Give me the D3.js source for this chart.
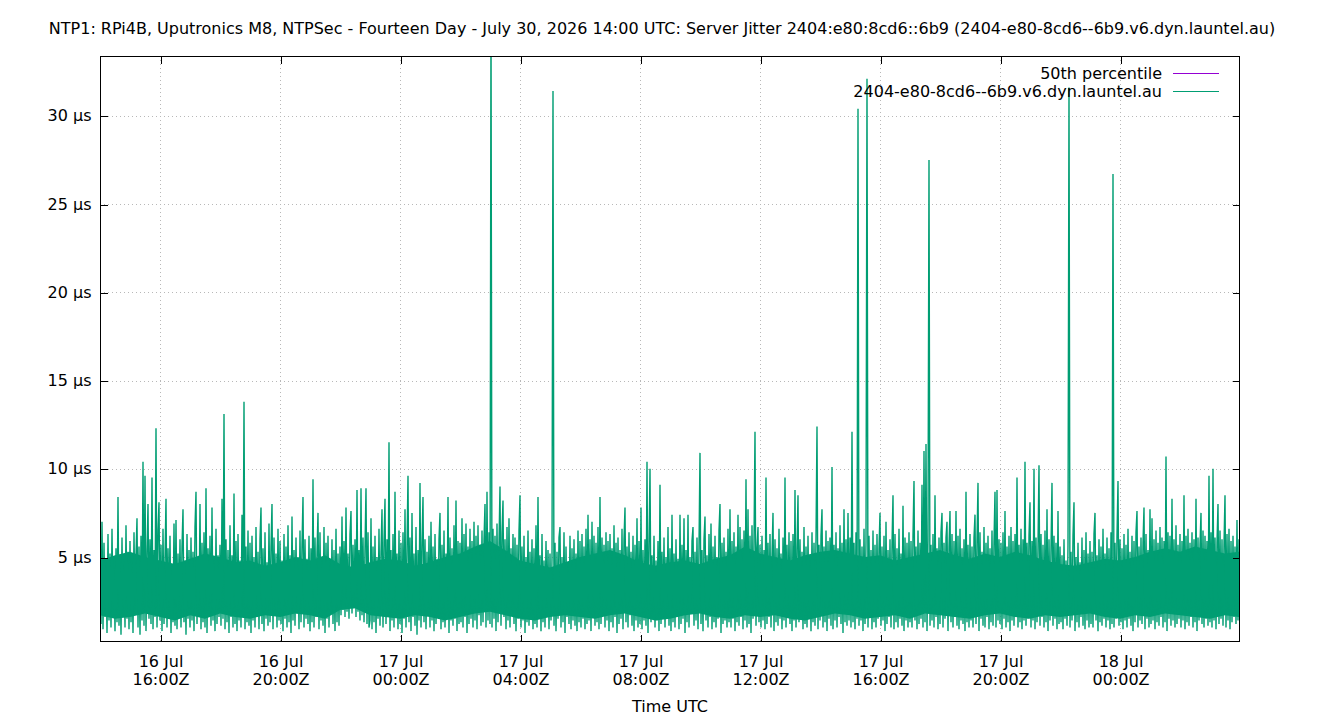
<!DOCTYPE html>
<html>
<head>
<meta charset="utf-8">
<script src="https://cdn.jsdelivr.net/npm/d3@7"></script>
<style>
  html, body { margin: 0; padding: 0; background: #fff; }
  svg { display: block; font-family: "DejaVu Sans", sans-serif; }
</style>
</head>
<body>
<svg id="chart" width="1340" height="720"></svg>
<script>
// ---------------- data ----------------
const chartTitle = "NTP1: RPi4B, Uputronics M8, NTPSec - Fourteen Day - July 30, 2026 14:00 UTC: Server Jitter 2404:e80:8cd6::6b9 (2404-e80-8cd6--6b9.v6.dyn.launtel.au)";
const xAxisLabel = "Time UTC";
const seriesNames = ["50th percentile", "2404-e80-8cd6--6b9.v6.dyn.launtel.au"];
const seriesColors = ["#9400d3", "#009e73"];
const medianJitter = 3.0;                       // µs, 50th percentile
const startTime = "2026-07-16T14:00:00Z";       // first sample
const endTime = "2026-07-18T03:58:00Z";         // right edge of the plot
const sampleMinutes = 2;                        // spacing of the jitter samples below
const bandMinutes = 30;                         // spacing of the dense-core band samples
const yDomain = [0.24, 33.39];
const yTicks = [5, 10, 15, 20, 25, 30];
const xTickTimes = ["2026-07-16T16:00:00Z", "2026-07-16T20:00:00Z", "2026-07-17T00:00:00Z",
  "2026-07-17T04:00:00Z", "2026-07-17T08:00:00Z", "2026-07-17T12:00:00Z",
  "2026-07-17T16:00:00Z", "2026-07-17T20:00:00Z", "2026-07-18T00:00:00Z"];
const xTickLabels = [["16 Jul", "16:00Z"], ["16 Jul", "20:00Z"], ["17 Jul", "00:00Z"],
  ["17 Jul", "04:00Z"], ["17 Jul", "08:00Z"], ["17 Jul", "12:00Z"],
  ["17 Jul", "16:00Z"], ["17 Jul", "20:00Z"], ["18 Jul", "00:00Z"]];

// dense core of the jitter trace (µs), where the samples overlap into solid colour, every 30 min
const coreHigh = [
  4.8, 5.1, 5.3, 5.0, 4.8, 4.6, 4.9, 5.2, 5.0, 4.7, 4.8, 4.5, 4.7, 5.0, 4.8, 5.1,
  4.6, 4.4, 4.7, 4.9, 4.8, 4.5, 4.7, 5.0, 5.2, 5.6, 5.9, 5.4, 4.8, 4.6, 4.4, 4.7,
  5.0, 5.2, 5.4, 5.1, 4.7, 4.5, 4.7, 4.8, 4.6, 4.9, 5.1, 5.6, 5.2, 5.0, 4.8, 5.1,
  5.3, 5.4, 5.2, 5.0, 5.1, 4.8, 5.0, 5.2, 5.4, 5.1, 4.9, 5.2, 5.0, 5.3, 5.1, 4.8,
  4.6, 4.5, 4.7, 4.9, 4.8, 5.0, 5.3, 5.5, 5.3, 5.6, 5.4, 5.2, 5.3
];
const coreLow = [
  1.7, 1.5, 1.6, 1.8, 1.6, 1.4, 1.7, 1.5, 1.8, 1.6, 1.5, 1.7, 1.6, 1.8, 1.7, 1.5,
  2.0, 2.1, 1.7, 1.6, 1.5, 1.7, 1.6, 1.4, 1.6, 1.8, 1.9, 1.7, 1.5, 1.4, 1.6, 1.7,
  1.6, 1.5, 1.7, 1.8, 1.6, 1.4, 1.5, 1.7, 1.8, 1.6, 1.5, 1.7, 1.6, 1.7, 1.5, 1.4,
  1.6, 1.8, 1.7, 1.5, 1.6, 1.7, 1.5, 1.8, 1.7, 1.6, 1.5, 1.7, 1.8, 1.6, 1.5, 1.7,
  1.6, 1.7, 1.8, 1.6, 1.5, 1.7, 1.6, 1.8, 1.7, 1.6, 1.5, 1.7, 1.6
];

// server jitter (µs), one row per hour, 2-minute samples
const jitter = [
  4.6, 1.2, 7.0, 0.9, 5.8, 1.6, 4.9, 0.7, 6.3, 1.4, 5.2, 1.0, 6.6, 2.1, 4.4, 0.8, 5.5, 1.3, 8.4, 1.1, 5.0, 0.6, 6.1, 1.7, 4.7, 1.0, 6.8, 1.5, 5.3, 0.9,
  5.9, 1.3, 4.8, 0.7, 6.4, 1.8, 5.1, 7.2, 1.0, 5.6, 0.6, 6.2, 1.4, 10.4, 1.1, 9.6, 0.8, 5.3, 8.0, 1.5, 6.0, 1.2, 9.5, 0.9, 5.4, 1.6, 12.3, 1.0, 6.5, 8.1,
  1.4, 5.7, 0.8, 6.6, 1.2, 4.9, 8.3, 1.0, 5.5, 1.7, 6.2, 0.7, 4.6, 1.3, 6.9, 1.1, 7.1, 0.9, 5.2, 1.9, 6.0, 1.0, 5.6, 7.7, 1.3, 4.8, 0.6, 6.3, 1.5, 5.4,
  1.0, 6.1, 1.4, 5.3, 0.8, 6.7, 8.7, 1.2, 5.0, 1.6, 8.0, 0.9, 5.8, 1.3, 6.4, 1.0, 8.9, 0.7, 5.5, 1.8, 6.2, 1.1, 7.8, 1.4, 4.9, 0.8, 6.6, 1.2, 5.1, 1.6,
  5.7, 1.1, 8.3, 1.5, 13.1, 0.9, 6.0, 1.3, 5.4, 0.7, 6.8, 1.6, 5.1, 1.0, 8.6, 1.2, 5.9, 0.8, 6.3, 1.4, 4.8, 1.0, 7.4, 1.7, 13.8, 0.9, 5.6, 1.3, 6.5, 1.1,
  5.8, 0.7, 6.2, 1.4, 5.0, 1.0, 6.7, 1.6, 5.3, 0.9, 6.0, 7.8, 1.2, 5.5, 0.8, 6.4, 1.5, 4.7, 1.1, 6.9, 1.3, 5.6, 8.0, 0.9, 6.1, 1.7, 5.2, 1.0, 6.6, 1.4,
  5.9, 1.2, 4.8, 0.8, 6.3, 1.5, 5.6, 1.0, 6.8, 1.3, 5.1, 0.7, 7.3, 1.4, 5.4, 1.1, 6.1, 1.8, 5.0, 0.9, 6.5, 1.3, 5.7, 8.4, 1.0, 6.0, 1.5, 4.9, 1.2, 6.2,
  0.8, 5.5, 1.3, 9.4, 1.0, 6.1, 1.6, 5.3, 7.5, 0.9, 6.4, 1.4, 5.0, 1.1, 6.7, 0.7, 5.8, 1.5, 6.2, 1.0, 4.9, 1.8, 6.0, 1.2, 5.4, 0.8, 6.6, 1.3, 5.2, 1.1,
  5.6, 1.7, 7.3, 2.0, 5.9, 1.6, 7.8, 1.9, 5.2, 1.5, 6.3, 7.6, 1.8, 5.7, 2.1, 6.0, 1.6, 8.8, 1.9, 5.4, 1.4, 8.9, 1.7, 6.1, 1.3, 5.5, 8.9, 1.2, 6.4, 1.0,
  1.4, 7.2, 0.9, 5.6, 1.3, 6.2, 0.7, 5.0, 1.5, 6.6, 1.1, 5.3, 7.7, 1.0, 5.9, 8.3, 1.2, 6.0, 1.7, 11.5, 0.8, 5.4, 1.4, 6.3, 1.0, 8.7, 1.6, 5.2, 0.9, 6.5,
  1.2, 5.8, 0.7, 6.4, 1.5, 7.7, 1.0, 5.5, 9.6, 1.3, 6.1, 0.8, 7.5, 1.6, 5.2, 1.1, 6.7, 0.6, 5.4, 1.4, 9.2, 1.0, 5.8, 8.4, 1.3, 6.0, 0.9, 5.3, 1.7, 6.2,
  1.0, 7.0, 1.4, 5.6, 0.8, 6.3, 1.2, 4.9, 1.6, 6.0, 7.5, 0.9, 5.7, 1.3, 6.5, 1.0, 5.2, 1.8, 8.4, 0.7, 6.1, 1.4, 5.5, 1.1, 6.8, 1.5, 8.2, 0.8, 5.9, 1.2,
  5.8, 1.3, 7.2, 1.0, 6.3, 1.6, 6.9, 0.7, 5.6, 1.2, 6.6, 1.5, 5.9, 1.0, 7.0, 1.4, 6.2, 0.9, 6.8, 1.7, 5.7, 1.1, 6.5, 1.3, 6.0, 8.0, 1.0, 8.7, 1.4, 6.4,
  1.2, 36.0, 1.0, 6.6, 1.5, 6.2, 0.8, 6.9, 1.3, 5.8, 9.0, 1.1, 6.4, 8.2, 1.6, 6.0, 0.9, 6.7, 1.4, 7.2, 1.0, 5.5, 1.7, 6.3, 1.2, 6.1, 0.8, 5.7, 1.5, 6.5,
  8.5, 1.0, 5.6, 1.4, 6.2, 0.7, 5.0, 1.3, 6.5, 1.1, 5.3, 1.6, 6.0, 0.9, 5.5, 1.2, 6.8, 1.0, 8.4, 1.5, 5.1, 0.8, 6.3, 1.3, 4.8, 1.0, 5.9, 1.7, 5.4, 0.9,
  5.2, 1.4, 4.9, 31.4, 1.1, 5.8, 0.8, 5.3, 1.5, 6.1, 6.7, 1.0, 5.0, 1.3, 6.4, 0.7, 5.6, 1.6, 4.7, 1.2, 6.2, 0.9, 5.5, 1.4, 6.0, 1.1, 5.2, 0.8, 6.5, 1.3,
  5.9, 1.0, 6.3, 1.5, 5.6, 0.9, 6.6, 1.2, 7.4, 1.4, 6.0, 0.8, 7.0, 1.6, 6.2, 1.1, 5.8, 1.3, 6.7, 0.9, 8.4, 1.2, 6.1, 1.7, 5.7, 1.0, 6.4, 1.4, 5.9, 0.8,
  6.3, 1.3, 5.5, 1.0, 6.8, 1.6, 5.8, 0.7, 6.1, 1.2, 5.4, 1.5, 6.6, 0.9, 6.0, 7.8, 1.3, 5.6, 1.0, 6.4, 1.7, 5.3, 1.1, 6.2, 0.8, 5.7, 1.4, 7.2, 1.0, 5.9,
  1.2, 7.8, 0.9, 5.4, 1.4, 6.0, 1.1, 10.4, 0.7, 5.6, 10.0, 1.3, 5.1, 1.6, 6.2, 1.0, 4.8, 1.4, 5.9, 0.8, 9.1, 1.2, 5.3, 1.5, 6.1, 1.0, 5.0, 1.7, 6.7, 1.1,
  5.5, 0.8, 7.4, 1.3, 5.2, 1.0, 6.0, 1.6, 4.9, 0.9, 7.4, 1.2, 5.7, 1.5, 7.2, 0.7, 5.4, 1.3, 7.4, 1.0, 5.0, 1.8, 5.9, 6.7, 1.1, 5.3, 1.4, 6.1, 0.9, 5.6,
  10.9, 1.2, 5.4, 0.8, 6.0, 7.3, 1.4, 5.1, 1.0, 6.3, 1.6, 6.9, 0.9, 5.6, 1.3, 6.2, 1.0, 5.0, 1.5, 6.5, 8.0, 0.7, 5.8, 1.2, 6.1, 1.4, 5.3, 1.0, 6.6, 1.3,
  7.7, 1.0, 5.9, 1.5, 6.4, 0.8, 5.6, 1.3, 7.4, 1.1, 6.7, 1.6, 6.0, 0.9, 6.5, 1.4, 9.4, 1.0, 7.7, 1.2, 6.2, 0.7, 6.8, 1.5, 5.9, 12.1, 1.1, 5.5, 6.7, 1.3,
  5.7, 1.0, 6.2, 1.4, 5.4, 0.9, 9.5, 1.2, 5.8, 1.6, 6.3, 1.0, 5.1, 7.5, 0.8, 6.0, 1.3, 5.5, 1.1, 6.6, 1.5, 5.2, 0.9, 6.1, 1.4, 9.5, 1.0, 5.7, 1.7, 6.4,
  1.2, 5.9, 0.8, 6.3, 1.4, 8.8, 1.0, 5.5, 8.5, 1.3, 6.0, 1.6, 5.3, 0.9, 6.7, 1.2, 5.6, 1.0, 6.2, 1.5, 5.0, 0.8, 6.4, 1.3, 5.8, 1.1, 6.1, 12.4, 0.9, 5.7,
  1.4, 6.2, 7.7, 1.0, 5.6, 1.3, 6.5, 0.8, 5.9, 1.5, 6.1, 1.1, 10.1, 0.9, 5.7, 1.4, 6.4, 1.0, 5.5, 1.6, 6.8, 1.2, 5.8, 0.7, 7.7, 1.3, 6.0, 1.1, 7.5, 1.4,
  6.1, 1.0, 12.1, 1.3, 5.8, 0.9, 6.4, 1.5, 30.4, 1.1, 6.0, 1.4, 5.6, 0.8, 6.6, 1.2, 5.9, 32.1, 1.0, 6.2, 1.6, 5.4, 0.9, 6.5, 1.3, 5.7, 1.0, 6.3, 1.5, 5.5,
  7.5, 1.1, 5.6, 1.4, 6.2, 0.8, 7.0, 1.2, 5.4, 1.6, 6.0, 1.0, 5.7, 8.5, 0.9, 6.3, 1.3, 5.5, 1.0, 6.6, 1.5, 5.2, 1.1, 7.9, 0.8, 6.1, 1.4, 5.8, 1.0, 6.4,
  1.3, 5.9, 1.0, 6.2, 9.3, 1.4, 5.6, 0.9, 6.5, 1.2, 5.8, 1.5, 9.1, 1.0, 11.0, 1.3, 11.4, 0.8, 6.0, 27.5, 1.1, 5.7, 1.4, 6.3, 1.0, 8.5, 1.6, 5.5, 0.9, 6.1,
  1.2, 6.4, 7.5, 1.0, 5.8, 1.5, 6.1, 7.0, 0.8, 5.6, 7.6, 1.3, 6.3, 1.0, 5.9, 1.6, 7.6, 1.1, 6.2, 0.9, 6.6, 1.4, 5.5, 1.2, 6.0, 0.8, 8.7, 1.3, 5.7, 1.0,
  6.3, 1.4, 5.6, 1.0, 6.1, 7.4, 1.2, 5.9, 9.2, 0.8, 6.4, 1.5, 5.3, 1.1, 6.7, 1.0, 5.8, 1.6, 6.2, 0.9, 5.5, 1.3, 6.5, 1.1, 5.9, 8.7, 1.0, 8.8, 1.4, 6.0,
  1.2, 5.8, 0.9, 6.4, 1.5, 7.6, 1.0, 5.6, 1.3, 6.2, 0.8, 6.7, 1.4, 5.9, 1.1, 6.3, 1.6, 9.5, 1.0, 5.7, 1.3, 6.6, 0.9, 6.0, 1.4, 10.4, 1.1, 5.8, 1.5, 6.2,
  8.1, 1.0, 5.9, 1.4, 10.0, 0.9, 6.1, 1.3, 5.6, 10.2, 1.1, 6.3, 1.6, 5.7, 1.0, 6.5, 1.3, 7.7, 0.8, 6.0, 1.4, 5.5, 9.2, 1.1, 6.2, 1.5, 5.8, 0.9, 7.6, 1.2,
  5.6, 1.3, 5.1, 0.9, 6.0, 1.5, 4.8, 1.1, 5.7, 31.6, 1.0, 5.3, 1.4, 6.2, 8.1, 0.8, 5.0, 1.3, 5.8, 1.0, 4.7, 1.6, 6.1, 1.1, 5.4, 0.9, 6.4, 1.4, 5.2, 1.0,
  5.9, 1.2, 5.3, 1.0, 6.3, 7.5, 1.4, 5.1, 0.8, 6.0, 1.3, 5.6, 1.1, 6.6, 1.5, 5.2, 1.0, 6.1, 1.4, 5.5, 0.9, 6.4, 1.2, 26.7, 1.0, 5.8, 1.5, 6.2, 9.3, 1.1,
  6.0, 1.3, 5.5, 0.9, 6.3, 1.4, 5.7, 1.0, 6.6, 1.5, 5.3, 1.1, 6.2, 0.8, 5.9, 1.3, 6.4, 7.6, 1.0, 5.6, 1.4, 6.1, 1.2, 5.8, 7.8, 0.9, 6.3, 1.5, 5.4, 1.0,
  7.7, 1.2, 7.2, 1.4, 6.0, 0.9, 6.5, 1.3, 5.8, 1.1, 6.7, 1.6, 6.1, 1.0, 5.9, 1.3, 10.7, 0.8, 6.4, 1.5, 6.2, 1.1, 8.3, 1.4, 6.0, 1.0, 6.8, 1.2, 5.7, 1.5,
  6.3, 1.0, 5.9, 1.4, 8.5, 0.9, 6.2, 1.3, 6.6, 1.1, 5.8, 1.6, 6.4, 1.0, 6.0, 1.3, 8.3, 0.8, 6.1, 1.4, 5.7, 7.5, 1.2, 6.5, 1.0, 6.2, 1.5, 5.9, 1.1, 9.6,
  1.3, 6.4, 1.0, 10.0, 1.4, 6.1, 0.9, 5.8, 8.0, 1.2, 6.5, 1.5, 6.0, 1.1, 5.7, 8.5, 1.0, 6.3, 1.4, 6.6, 0.9, 5.9, 1.3, 6.2, 1.6, 5.6, 1.2, 7.1, 1.4, 6.0
];

// ---------------- layout ----------------
const W = 1340, H = 720;
const plot = { left: 100, right: 1239, top: 56, bottom: 641 };
const tickLen = 7;
const fontSize = 16;

const svg = d3.select("#chart");
svg.append("rect").attr("width", W).attr("height", H).attr("fill", "#fff");

const t0 = new Date(startTime);
const x = d3.scaleUtc().domain([t0, new Date(endTime)]).range([plot.left, plot.right]);
const y = d3.scaleLinear().domain(yDomain).range([plot.bottom, plot.top]);

const data = jitter.map((v, i) => ({ t: new Date(t0.getTime() + i * sampleMinutes * 60000), v }));
const core = coreHigh.map((hi, i) => ({ t: new Date(t0.getTime() + i * bandMinutes * 60000), hi, lo: coreLow[i] }));
const xTicks = xTickTimes.map(s => new Date(s));

// grid
const grid = svg.append("g").attr("stroke", "#b8b8b8").attr("stroke-width", 1)
  .attr("stroke-dasharray", "1,3").attr("shape-rendering", "crispEdges");
grid.selectAll("line.gy").data(yTicks).join("line")
  .attr("x1", plot.left).attr("x2", plot.right)
  .attr("y1", d => Math.round(y(d)) + 0.5).attr("y2", d => Math.round(y(d)) + 0.5);
grid.selectAll("line.gx").data(xTicks).join("line")
  .attr("y1", plot.top).attr("y2", plot.bottom)
  .attr("x1", d => Math.round(x(d)) + 0.5).attr("x2", d => Math.round(x(d)) + 0.5);

// clip
svg.append("defs").append("clipPath").attr("id", "clip").append("rect")
  .attr("x", plot.left).attr("y", plot.top)
  .attr("width", plot.right - plot.left).attr("height", plot.bottom - plot.top);

const dataG = svg.append("g").attr("clip-path", "url(#clip)");

// median line
dataG.append("line")
  .attr("x1", plot.left).attr("x2", plot.right)
  .attr("y1", y(medianJitter)).attr("y2", y(medianJitter))
  .attr("stroke", seriesColors[0]).attr("stroke-width", 1);

// dense core of the jitter trace
const area = d3.area().x(d => x(d.t)).y0(d => y(d.lo)).y1(d => y(d.hi));
dataG.append("path").datum(core)
  .attr("d", area)
  .attr("fill", seriesColors[1]);

// jitter trace
const line = d3.line().x(d => x(d.t)).y(d => y(d.v));
dataG.append("path").datum(data)
  .attr("d", line)
  .attr("fill", "none")
  .attr("stroke", seriesColors[1])
  .attr("stroke-width", 1.4)
  .attr("stroke-linejoin", "miter")
  .attr("stroke-miterlimit", 2);

// axes (ticks inward, mirrored)
const fmtY = d => d + " µs";
const axL = svg.append("g").attr("transform", `translate(${plot.left + 0.5},0)`)
  .call(d3.axisLeft(y).tickValues(yTicks).tickSizeInner(-tickLen).tickSizeOuter(0).tickPadding(9).tickFormat(fmtY));
const axR = svg.append("g").attr("transform", `translate(${plot.right + 0.5},0)`)
  .call(d3.axisRight(y).tickValues(yTicks).tickSizeInner(-tickLen).tickSizeOuter(0).tickFormat(""));
const axB = svg.append("g").attr("transform", `translate(0,${plot.bottom + 0.5})`)
  .call(d3.axisBottom(x).tickValues(xTicks).tickSizeInner(-tickLen).tickSizeOuter(0).tickFormat(""));
const axT = svg.append("g").attr("transform", `translate(0,${plot.top + 0.5})`)
  .call(d3.axisTop(x).tickValues(xTicks).tickSizeInner(-tickLen).tickSizeOuter(0).tickFormat(""));

[axL, axR, axB, axT].forEach(g => {
  g.select(".domain").remove();
  g.selectAll(".tick line").attr("stroke", "#000").attr("shape-rendering", "crispEdges");
  g.selectAll(".tick").attr("transform", function () {
    const tr = d3.select(this).attr("transform");
    return tr.replace(/translate\(([^,]+),([^)]+)\)/, (m, a, b) => {
      const ax = parseFloat(a), bx = parseFloat(b);
      return `translate(${g === axL || g === axR ? ax : Math.round(ax)},${g === axL || g === axR ? Math.round(bx) : bx})`;
    });
  });
});
axL.selectAll(".tick text").attr("font-size", fontSize).attr("font-family", "DejaVu Sans").attr("fill", "#000");

axB.selectAll(".tick").each(function (d, i) {
  const g = d3.select(this);
  g.select("text").remove();
  const t = g.append("text").attr("text-anchor", "middle").attr("font-size", fontSize)
    .attr("font-family", "DejaVu Sans").attr("fill", "#000");
  t.append("tspan").attr("x", 0).attr("y", 25).text(xTickLabels[i][0]);
  t.append("tspan").attr("x", 0).attr("y", 43).text(xTickLabels[i][1]);
});

// border
svg.append("rect")
  .attr("x", plot.left + 0.5).attr("y", plot.top + 0.5)
  .attr("width", plot.right - plot.left).attr("height", plot.bottom - plot.top)
  .attr("fill", "none").attr("stroke", "#000").attr("stroke-width", 1)
  .attr("shape-rendering", "crispEdges");

// title & axis label
svg.append("text").attr("x", 662).attr("y", 34).attr("text-anchor", "middle")
  .attr("font-size", fontSize).attr("fill", "#000").text(chartTitle);
svg.append("text").attr("x", 670).attr("y", 712).attr("text-anchor", "middle")
  .attr("font-size", fontSize).attr("fill", "#000").text(xAxisLabel);

// legend
const legend = svg.append("g");
seriesNames.forEach((name, i) => {
  const ly = 73 + i * 18;
  legend.append("text").attr("x", 1162).attr("y", ly + 6).attr("text-anchor", "end")
    .attr("font-size", fontSize).attr("fill", "#000").text(name);
  legend.append("line").attr("x1", 1173).attr("x2", 1219)
    .attr("y1", ly + 0.5).attr("y2", ly + 0.5)
    .attr("stroke", seriesColors[i]).attr("stroke-width", 1);
});
</script>
</body>
</html>
